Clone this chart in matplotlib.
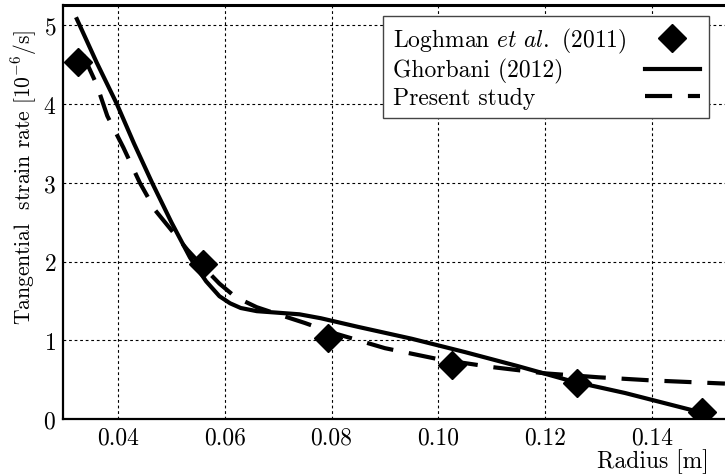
"""
Tangential strain rate along the disk radius: Loghman et al. data, Ghorbani solution and present model.
"""
import matplotlib

matplotlib.use("Agg")
import matplotlib.pyplot as plt

# Loghman et al. (2011) reference points
loghman_r = [0.0325, 0.0559, 0.0793, 0.1026, 0.1260, 0.1494]
loghman_rate = [4.53, 1.97, 1.03, 0.68, 0.46, 0.09]

# Ghorbani (2012) solution
ghorbani_r = [0.0323, 0.0360, 0.0398, 0.0430, 0.0464, 0.0500, 0.0535, 0.0565,
              0.0590, 0.0610, 0.0630, 0.0660, 0.0700, 0.0740, 0.0780, 0.0850,
              0.0950, 0.1050, 0.1150, 0.1250, 0.1350, 0.1494]
ghorbani_rate = [5.08, 4.53, 4.00, 3.50, 3.00, 2.50, 2.05, 1.75,
                 1.56, 1.47, 1.41, 1.37, 1.35, 1.33, 1.28, 1.17,
                 1.02, 0.85, 0.67, 0.48, 0.33, 0.08]

# present study
present_r = [0.0335, 0.0360, 0.0380, 0.0410, 0.0441, 0.0470, 0.0500, 0.0530,
             0.0560, 0.0590, 0.0620, 0.0660, 0.0700, 0.0750, 0.0800, 0.0900,
             0.1000, 0.1100, 0.1200, 0.1300, 0.1400, 0.1537]
present_rate = [4.62, 4.25, 3.85, 3.45, 3.00, 2.65, 2.40, 2.15,
                1.93, 1.72, 1.55, 1.42, 1.33, 1.22, 1.10, 0.90,
                0.76, 0.66, 0.58, 0.53, 0.49, 0.45]

x_ticks = [0.04, 0.06, 0.08, 0.10, 0.12, 0.14]
x_tick_labels = ["0.04", "0.06", "0.08", "0.10", "0.12", "0.14"]
y_ticks = [0, 1, 2, 3, 4, 5]

plt.rcParams.update({
    "font.family": "serif",
    "font.serif": ["cmr10"],
    "mathtext.fontset": "cm",
    "axes.formatter.use_mathtext": True,
    "font.size": 17,
})

fig = plt.figure(figsize=(7.25, 4.77), dpi=100)
ax = fig.add_axes([0.0869, 0.1195, 0.913, 0.868])

ax.plot(loghman_r, loghman_rate, linestyle="none", marker="D", ms=14,
        color="black", label=r"Loghman $\mathit{et\ al.}$ (2011)", zorder=4)
ax.plot(ghorbani_r, ghorbani_rate, color="black", lw=3,
        label="Ghorbani (2012)", zorder=3)
ax.plot(present_r, present_rate, color="black", lw=3, linestyle=(0, (6.5, 3.8)),
        label="Present study", zorder=3)

ax.set_xlim(0.0297, 0.1537)
ax.set_ylim(0, 5.26)
ax.set_xticks(x_ticks)
ax.set_xticklabels(x_tick_labels)
ax.set_yticks(y_ticks)
ax.tick_params(length=0, pad=5, labelsize=17)

ax.grid(True, color="black", lw=0.8, linestyle=(0, (2.5, 2.5)))
ax.set_axisbelow(True)

for side in ("left", "bottom"):
    ax.spines[side].set_linewidth(1.6)
ax.spines["top"].set_linewidth(2.2)
ax.spines["right"].set_visible(False)

ax.set_ylabel(r"Tangential  strain rate [10$^{\mathsf{-6}}$/s]", fontsize=15.5, va="center")
ax.yaxis.set_label_coords(-0.059, 0.585)
ax.set_xlabel("Radius [m]", fontsize=17, ha="right", va="center")
ax.xaxis.set_label_coords(0.976, -0.101)

leg = ax.legend(loc="upper right", bbox_to_anchor=(0.976, 0.973), markerfirst=False,
                fancybox=False, framealpha=1, edgecolor="#444444", fontsize=17,
                handlelength=2.3, labelspacing=0.15, borderpad=0.4,
                handletextpad=0.8, borderaxespad=0)
leg.get_frame().set_linewidth(1.0)

# left-align the labels and push the handles to the right edge of the box
fig.canvas.draw()
renderer = fig.canvas.get_renderer()
for col in leg._legend_handle_box.get_children():
    rows = col.get_children()
    col.width = max(row.get_bbox(renderer).width for row in rows)
    for row in rows:
        row.mode = "expand"

fig.savefig("out.png", dpi=100)
